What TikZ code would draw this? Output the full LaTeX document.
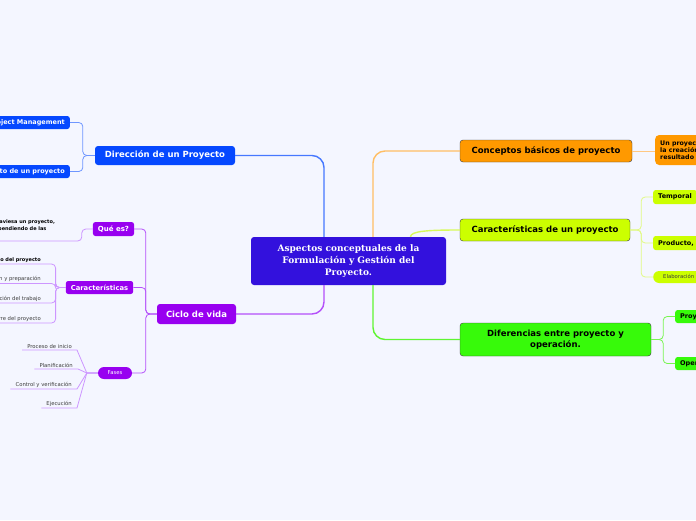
\documentclass[tikz,border=0pt]{standalone}
\usepackage{fontspec}
\setmainfont{DejaVu Sans}
\newfontfamily\rootfont{DejaVu Serif}
\usetikzlibrary{positioning}
\definecolor{bg}{RGB}{244,246,255}
\definecolor{croot}{RGB}{51,17,221}
\definecolor{cblue}{RGB}{5,72,255}
\definecolor{cpurple}{RGB}{152,0,240}
\definecolor{corange}{RGB}{255,153,0}
\definecolor{cyellow}{RGB}{204,255,0}
\definecolor{cgreen}{RGB}{55,250,10}
\definecolor{edge}{RGB}{60,60,60}
\definecolor{ink}{RGB}{60,60,60}
\definecolor{lblue}{RGB}{70,120,255}
\definecolor{lpurple}{RGB}{180,80,250}
\definecolor{lorange}{RGB}{255,190,100}
\definecolor{lyellow}{RGB}{215,250,90}
\definecolor{lgreen}{RGB}{95,245,50}
\definecolor{tblue}{RGB}{110,150,255}
\definecolor{tpurple}{RGB}{205,150,255}
\definecolor{torange}{RGB}{255,200,130}
\definecolor{tyellow}{RGB}{225,250,130}
\definecolor{tgreen}{RGB}{120,245,80}

\begin{document}
\begin{tikzpicture}[x=1pt, y=-1pt,
  topic/.style={rounded corners=3pt, inner sep=0pt, align=center, font=\bfseries\fontsize{8.5}{10.5}\selectfont},
  sub/.style={rounded corners=2.5pt, inner xsep=5pt, inner ysep=0pt, font=\bfseries\fontsize{6.5}{7.5}\selectfont},
  ul/.style={inner xsep=0pt, inner ysep=1.5pt, font=\fontsize{5.3}{6}\selectfont, text=ink},
  link/.style={line width=1.4pt, rounded corners=12pt},
  twig/.style={line width=0.8pt, rounded corners=4pt}]
\useasboundingbox (0,0) rectangle (696,520);
\fill[bg] (0,0) rectangle (696,520);
\clip (0,0) rectangle (696,520);

\node[topic, fill=croot, text=white, minimum width=195pt, minimum height=48pt, font=\rootfont\bfseries\fontsize{9}{12}\selectfont] (root) at (348.5,261) {Aspectos conceptuales de la\\Formulación y Gestión del\\Proyecto.};

\node[topic, fill=cblue, text=white, minimum width=140pt, minimum height=19pt] (dir) at (165,155.5) {Dirección de un Proyecto};
\node[topic, fill=cpurple, text=white, minimum width=79pt, minimum height=20pt] (ciclo) at (196.5,314) {Ciclo de vida};
\node[topic, draw=edge, fill=corange, minimum width=172pt, minimum height=22pt] (conc) at (546,151) {Conceptos básicos de proyecto};
\node[topic, draw=edge, fill=cyellow, minimum width=170pt, minimum height=22pt] (carp) at (545,230) {Características de un proyecto};
\node[topic, draw=edge, fill=cgreen, minimum width=191pt, minimum height=33pt] (dif) at (555.5,339.5) {Diferencias entre proyecto y\\operación.};

\node[sub, fill=cblue, text=white, minimum height=13pt, anchor=east] (pm) at (70,122.5) {Project Management};
\node[sub, fill=cblue, text=white, minimum height=13pt, anchor=east] (ctx) at (70,171.5) {Contexto de un proyecto};

\node[sub, fill=cpurple, text=white, minimum width=39pt, minimum height=14pt, font=\bfseries\fontsize{7}{8}\selectfont] (que) at (113.5,229) {Qué es?};
\node[sub, fill=cpurple, text=white, minimum width=67pt, minimum height=13pt, font=\bfseries\fontsize{6.8}{8}\selectfont] (car) at (99.5,287.5) {Características};
\node[sub, fill=cpurple, text=white, rounded corners=6pt, minimum width=34pt, minimum height=12pt, font=\fontsize{5.3}{6}\selectfont] (fases) at (115,373) {Fases};

\node[ul, anchor=south west, align=left, text=black, font=\bfseries\fontsize{5}{6.5}\selectfont] (qtxt) at (-9,233) {atraviesa un proyecto,\\dependiendo de las};

\node[ul, anchor=south east, text=black, font=\bfseries\fontsize{5}{6}\selectfont] (k1) at (41,264) {Inicio del proyecto};
\node[ul, anchor=south east] (k2) at (41,283.5) {Organización y preparación};
\node[ul, anchor=south east] (k3) at (41,303) {Ejecución del trabajo};
\node[ul, anchor=south east] (k4) at (41,323) {Cierre del proyecto};

\node[ul, anchor=south east, inner xsep=5pt] (f1) at (77,350) {Proceso de inicio};
\node[ul, anchor=south east, inner xsep=5pt] (f2) at (78,369) {Planificación};
\node[ul, anchor=south east, inner xsep=5pt] (f3) at (77,389) {Control y verificación};
\node[ul, anchor=south east, inner xsep=5pt] (f4) at (77,408) {Ejecución};
\coordinate (fj) at ([xshift=-11pt]fases.west);

\node[sub, fill=corange, rounded corners=4pt, anchor=west, minimum height=30pt, align=left, font=\bfseries\fontsize{6.3}{7}\selectfont] (def) at (655,150) {Un proyecto es un esfuerzo temporal para\\la creación de un producto, servicio o\\resultado único.};
\node[sub, fill=cyellow, anchor=west, minimum height=14pt] (temp) at (653,197) {Temporal};
\node[sub, fill=cyellow, anchor=west, minimum height=14pt] (prod) at (653,243) {Producto, servicio o resultado único};
\node[sub, fill=cyellow, anchor=west, minimum height=12pt, rounded corners=6pt, inner xsep=10pt, text=ink, font=\fontsize{5.3}{6}\selectfont] (elab) at (653,277) {Elaboración gradual};
\node[sub, fill=cgreen, anchor=west, minimum height=13pt] (proy) at (675,316.5) {Proyecto};
\node[sub, fill=cgreen, anchor=west, minimum height=13pt] (oper) at (675,363.5) {Operación};

\draw[link, lblue] ([xshift=-24.5pt]root.north) |- (dir.east);
\draw[link, lpurple] ([xshift=-24.5pt]root.south) |- (ciclo.east);
\draw[link, lorange] ([xshift=24.5pt]root.north) |- (conc.west);
\draw[link, lgreen] ([xshift=24.5pt]root.south) |- (dif.west);
\draw[link, lyellow] ([xshift=62pt]root.north) .. controls +(0,-6) and +(-30,0) .. (carp.west);

\draw[twig, tblue] (dir.west) -- ++(-12,0) |- (pm.east);
\draw[twig, tblue] (dir.west) -- ++(-12,0) |- (ctx.east);
\foreach \n in {que,car,fases}
  \draw[twig, lpurple] (ciclo.west) -- ++(-11,0) |- (\n.east);
\draw[twig, tpurple] (que.west) -- ++(-11,0) |- ([yshift=-8pt]qtxt.south west);
\foreach \k in {k1,k2,k3,k4}
  \draw[twig, tpurple] (car.west) -- ++(-10,0) |- (\k.south west);
\foreach \i in {1,...,4}
  \draw[tpurple, line width=0.8pt] (fases.west) -- (fj) -- (f\i.south east) -- (f\i.south west);

\draw[twig, torange] (conc.east) -- (conc.east -| def.west);
\foreach \n in {temp,prod,elab}
  \draw[twig, tyellow] (carp.east) -- ++(11,0) |- (\n.west);
\foreach \n in {proy,oper}
  \draw[twig, tgreen] (dif.east) -- ++(12,0) |- (\n.west);
\end{tikzpicture}
\end{document}
